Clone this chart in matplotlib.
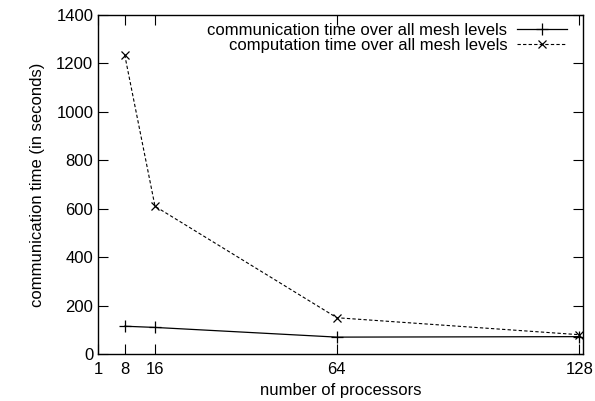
import matplotlib
matplotlib.use('Agg')
import matplotlib.pyplot as plt

# ========================= DATA ==========================================

processors = [8, 16, 64, 128]
comm_time = [115, 110, 70, 72]
comp_time = [1235, 610, 150, 80]

x_ticks = [1, 8, 16, 64, 128]
y_ticks = [0, 200, 400, 600, 800, 1000, 1200, 1400]

# ========================= FIGURE ========================================

plt.rcParams['font.family'] = ['Liberation Sans', 'DejaVu Sans']
plt.rcParams['font.size'] = 12

fig = plt.figure(figsize=(5.95, 4.01), dpi=100)
ax = fig.add_axes([0.165, 0.117, 0.815, 0.846])

ax.plot(processors, comm_time, color='black', linestyle='-', linewidth=0.9,
        marker='+', markersize=8, markeredgewidth=0.9,
        label='communication time over all mesh levels')
ax.plot(processors, comp_time, color='black', linestyle=(0, (3, 2)), linewidth=0.8,
        marker='x', markersize=6, markeredgewidth=0.9,
        label='computation time over all mesh levels')

ax.set_xlim(1, 129)
ax.set_ylim(0, 1400)
ax.set_xticks(x_ticks)
ax.set_yticks(y_ticks)
ax.tick_params(direction='in', length=7, width=0.8, top=True, right=True,
               labelsize=12)
ax.tick_params(axis='x', pad=6)

for s in ax.spines.values():
    s.set_linewidth(1.0)

ax.set_xlabel('number of processors', fontsize=12, labelpad=4)
ax.set_ylabel('communication time (in seconds)', fontsize=12, labelpad=8)

leg = ax.legend(loc='upper right', markerfirst=False, frameon=False,
                fontsize=12, handlelength=3.0, borderaxespad=0.1,
                labelspacing=0.0, handletextpad=0.6,
                bbox_to_anchor=(0.985, 1.0))

plt.savefig('out.png', dpi=100)
plt.close()
